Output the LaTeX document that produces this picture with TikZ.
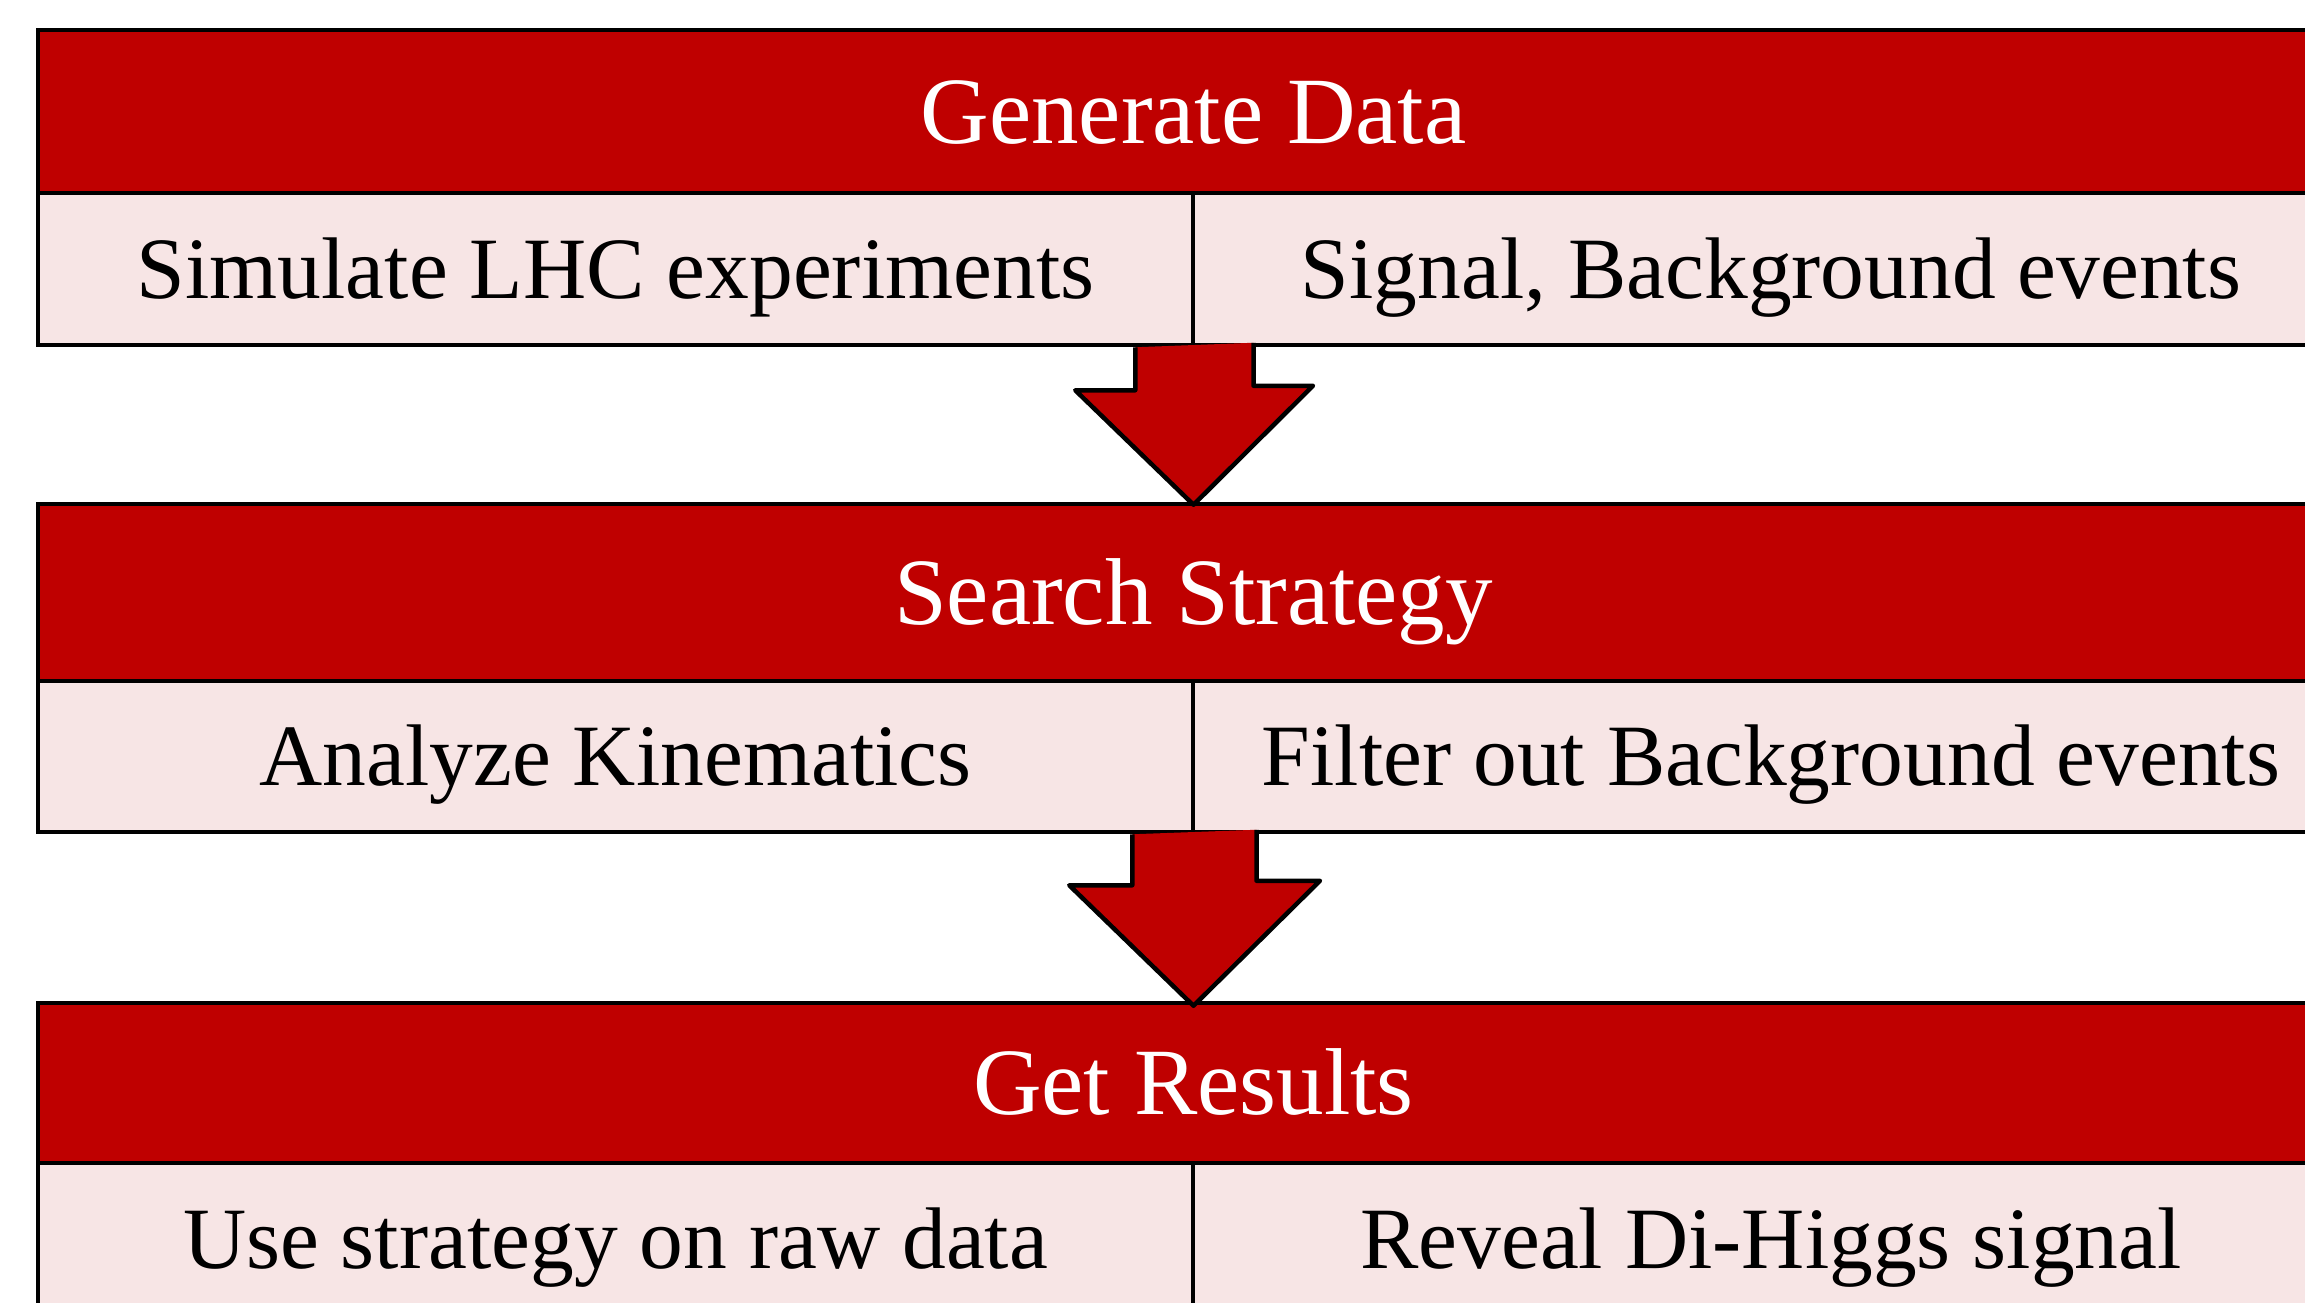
\documentclass[tikz,border=0pt]{standalone}
\usepackage{fontspec}
\setmainfont{Liberation Serif}
\definecolor{hdrred}{RGB}{191,0,0}
\definecolor{subpink}{RGB}{247,229,229}
\tikzset{
  hdr/.style={draw=black, fill=hdrred, line width=4.5pt, text=white, inner sep=0pt,
    font=\fontsize{95pt}{100pt}\selectfont, text height=63pt, text depth=0pt,
    minimum width=2311pt},
  subcell/.style={draw=black, fill=subpink, line width=4.5pt, text=black, inner sep=0pt,
    font=\fontsize{87.5pt}{92pt}\selectfont, text height=58pt, text depth=0pt},
  blockarrow/.style={draw=black, fill=hdrred, line width=4.5pt, line join=round}
}
\begin{document}
\begin{tikzpicture}[x=1pt,y=-1pt]
\useasboundingbox (0,0) rectangle (2305,1302);
\clip (0,0) rectangle (2305,1302);
% Box 1
\node[subcell, minimum width=1155pt, minimum height=152pt] (s1l) at (615.5,269) {Simulate LHC experiments};
\node[subcell, minimum width=1156pt, minimum height=152pt] (s1r) at (1771,269) {Signal, Background events};
\node[hdr, minimum height=163pt] (h1) at (1193.5,111.5) {Generate Data};
% Box 2
\node[subcell, minimum width=1155pt, minimum height=151pt] (s2l) at (615.5,756.5) {Analyze Kinematics};
\node[subcell, minimum width=1156pt, minimum height=151pt] (s2r) at (1771,756.5) {Filter out Background events};
\node[hdr, minimum height=177pt] (h2) at (1193.5,592.5) {Search Strategy};
% Box 3
\node[subcell, minimum width=1155pt, minimum height=152pt] (s3l) at (615.5,1239) {Use strategy on raw data};
\node[subcell, minimum width=1156pt, minimum height=152pt] (s3r) at (1771,1239) {Reveal Di-Higgs signal};
\node[hdr, minimum height=160pt] (h3) at (1193.5,1083) {Get Results};
% Arrow 1
\fill[hdrred] ([xshift=-60pt]s1l.south east) -- ++(0,43) -- ++(-60,0) -- ([yshift=-3pt]h2.north) -- ++(119.5,-119) -- ++(-59.5,0) -- ++(0,-43) -- cycle;
\draw[blockarrow, fill=none] ([xshift=-60pt]s1l.south east) -- ++(0,43) -- ++(-60,0) -- ([yshift=-3pt]h2.north) -- ++(119.5,-119) -- ++(-59.5,0) -- ++(0,-43);
% Arrow 2
\fill[hdrred] ([xshift=-63pt]s2l.south east) -- ++(0,51) -- ++(-63,0) -- ([yshift=-5pt]h3.north) -- ++(126.5,-125) -- ++(-63.5,0) -- ++(0,-51) -- cycle;
\draw[blockarrow, fill=none] ([xshift=-63pt]s2l.south east) -- ++(0,51) -- ++(-63,0) -- ([yshift=-5pt]h3.north) -- ++(126.5,-125) -- ++(-63.5,0) -- ++(0,-51);
\end{tikzpicture}
\end{document}
